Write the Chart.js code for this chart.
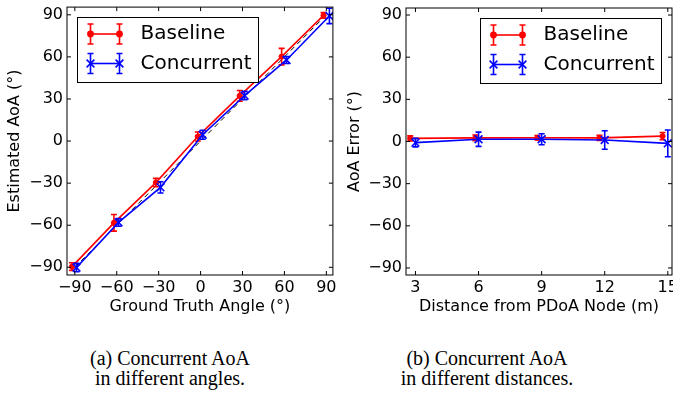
<!DOCTYPE html>
<html>
<head>
<meta charset="utf-8">
<script src="https://cdn.jsdelivr.net/npm/chart.js@4"></script>
<style>
  html, body { margin: 0; padding: 0; background: #fff; overflow: hidden; width: 673px; height: 400px; }
  .box { position: absolute; top: 0; height: 320px; }
  #wrapA { left: 0; width: 340px; }
  #wrapB { left: 340px; width: 360px; }
  .cap { position: absolute; top: 348px; width: 220px; font-family: 'Liberation Serif', serif; font-size: 20px; line-height: 20px; text-align: center; color: #000; white-space: nowrap; }
</style>
</head>
<body>
<div class="box" id="wrapA"><canvas id="angle" width="340" height="320"></canvas></div>
<div class="box" id="wrapB"><canvas id="dist" width="360" height="320"></canvas></div>
<div class="cap" style="left:60px">(a) Concurrent AoA<br>in different angles.</div>
<div class="cap" style="left:377px">(b) Concurrent AoA<br>in different distances.</div>
<script>
// (a) estimated AoA vs ground truth angle
const angleTicks = [-90, -60, -30, 0, 30, 60, 90];
const baseAngleX = [-92, -62, -32, -2, 28, 58, 88];
const baseAngleY = [-89.5, -58.3, -29.6, 3.2, 32.2, 60.2, 89.6];
const baseAngleErr = [2.7, 5.9, 3, 3.2, 3.8, 5.9, 2];
const concAngleX = [-88.8, -58.7, -28.7, 1.5, 31.5, 61.5, 92.2];
const concAngleY = [-90.2, -58, -33, 4.5, 32.4, 57.8, 89.2];
const concAngleErr = [3, 2.7, 4, 3.2, 3, 2.5, 5.5];
const diagX = [-90, 90];

// (b) AoA error vs distance
const errTicks = [-90, -60, -30, 0, 30, 60, 90];
const distTicks = [3, 6, 9, 12, 15];
const baseDistX = [2.75, 5.85, 8.8, 11.75, 14.75];
const baseDistY = [2.2, 2.6, 2.7, 2.6, 3.8];
const baseDistErr = [1.8, 2, 1.6, 1.8, 2.6];
const concDistX = [3, 6, 9, 12, 15];
const concDistY = [-0.8, 1.6, 1.6, 1.1, -1.3];
const concDistErr = [3, 5.1, 3.9, 6.6, 9.5];

Chart.defaults.font.family = 'DejaVu Sans';
Chart.defaults.color = '#000';

const RED = '#ff0000';
const BLUE = '#0000ff';

function pts(xs, ys) {
    return xs.map((x, i) => ({x: x, y: ys[i]}));
}

function fmt(v) {
    return v < 0 ? '\u2212' + Math.abs(v) : String(v);
}

// vertical error bars with caps, drawn right after their own line
const errorBars = {
    id: 'errorBars',
    afterDatasetDraw(chart, args) {
        const ds = chart.data.datasets[args.index];
        if (!ds.errors) return;
        const {ctx, chartArea: a} = chart;
        const xs = chart.scales.x, ys = chart.scales.y;
        ctx.save();
        ctx.beginPath();
        ctx.rect(a.left, a.top, a.right - a.left, a.bottom - a.top);
        ctx.clip();
        ctx.strokeStyle = ds.borderColor;
        ctx.lineWidth = 1.6;
        ds.data.forEach((p, i) => {
            const px = xs.getPixelForValue(p.x);
            const hi = ys.getPixelForValue(p.y + ds.errors[i]);
            const lo = ys.getPixelForValue(p.y - ds.errors[i]);
            ctx.beginPath();
            ctx.moveTo(px, hi); ctx.lineTo(px, lo);
            ctx.moveTo(px - 3, hi); ctx.lineTo(px + 3, hi);
            ctx.moveTo(px - 3, lo); ctx.lineTo(px + 3, lo);
            ctx.stroke();
        });
        ctx.restore();
    }
};

// box around the plot and inward ticks on all four sides, then the legend
const frameAndLegend = {
    id: 'errLegend',
    afterDraw(chart, args, opts) {
        const {ctx, chartArea: a} = chart;
        const xs = chart.scales.x, ys = chart.scales.y;
        ctx.save();
        ctx.strokeStyle = '#000';
        ctx.lineWidth = 1;
        ctx.strokeRect(a.left, a.top, a.right - a.left, a.bottom - a.top);
        ctx.beginPath();
        xs.ticks.forEach(t => {
            const p = xs.getPixelForValue(t.value);
            ctx.moveTo(p, a.bottom); ctx.lineTo(p, a.bottom - 4);
            ctx.moveTo(p, a.top); ctx.lineTo(p, a.top + 4);
        });
        ys.ticks.forEach(t => {
            const p = ys.getPixelForValue(t.value);
            ctx.moveTo(a.left, p); ctx.lineTo(a.left + 4, p);
            ctx.moveTo(a.right, p); ctx.lineTo(a.right - 4, p);
        });
        ctx.stroke();

        // legend
        const bx = Math.round(a.left + opts.x) + 0.5;
        const by = Math.round(a.top + opts.y) + 0.5;
        ctx.fillStyle = '#fff';
        ctx.fillRect(bx, by, 181, 65);
        ctx.strokeRect(bx, by, 181, 65);
        const items = chart.data.datasets.filter(d => d.errors);
        items.forEach((d, i) => {
            const cy = by + 16.5 + i * 29.5;
            const x0 = bx + 13, x1 = bx + 42;
            ctx.strokeStyle = d.borderColor;
            ctx.fillStyle = d.borderColor;
            ctx.lineWidth = d.borderWidth;
            ctx.beginPath();
            ctx.moveTo(x0, cy); ctx.lineTo(x1, cy);
            ctx.stroke();
            ctx.lineWidth = 1.6;
            [x0, x1].forEach(px => {
                ctx.beginPath();
                ctx.moveTo(px, cy - 10); ctx.lineTo(px, cy + 10);
                ctx.moveTo(px - 3, cy - 10); ctx.lineTo(px + 3, cy - 10);
                ctx.moveTo(px - 3, cy + 10); ctx.lineTo(px + 3, cy + 10);
                ctx.stroke();
                Chart.helpers.drawPoint(ctx, {
                    pointStyle: d.pointStyle, radius: d.pointRadius,
                    rotation: 0, borderWidth: d.pointBorderWidth
                }, px, cy);
            });
            ctx.fillStyle = '#000';
            ctx.font = '20px "DejaVu Sans"';
            ctx.textBaseline = 'middle';
            ctx.textAlign = 'left';
            ctx.fillText(d.label, bx + 63, cy);
        });
        ctx.restore();
    }
};

function series(label, xs, ys, errs, color, style) {
    const isCross = style === 'crossRot';
    return {
        label: label,
        data: pts(xs, ys),
        errors: errs,
        borderColor: color,
        backgroundColor: color,
        borderWidth: 1.6,
        pointStyle: style,
        pointRadius: isCross ? 5.5 : 2.6,
        pointBorderWidth: isCross ? 1.6 : 1,
        pointBackgroundColor: color,
        pointBorderColor: color,
        order: isCross ? 0 : 1,
        clip: 0
    };
}

function axis(min, max, tickVals, size, title, titlePad) {
    const horiz = size.h !== undefined;
    return {
        type: 'linear',
        min: min,
        max: max,
        afterBuildTicks: s => { s.ticks = tickVals.map(v => ({value: v})); },
        afterFit: s => {
            if (horiz) {
                s.height = size.h;
                s.paddingLeft = 0; s.paddingRight = 0;
            } else {
                s.width = size.w;
                s.paddingTop = 0; s.paddingBottom = 0;
            }
        },
        grid: {display: false, drawTicks: false},
        border: {display: false},
        ticks: {
            padding: horiz ? 3 : 4,
            font: {size: 16},
            color: '#000',
            maxRotation: 0,
            autoSkip: false,
            callback: v => fmt(v)
        },
        title: {
            display: true,
            text: title,
            font: {size: 16},
            color: '#000',
            padding: titlePad
        }
    };
}

const angleChart = new Chart(document.getElementById('angle'), {
    type: 'line',
    data: {
        datasets: [
            series('Baseline', baseAngleX, baseAngleY, baseAngleErr, RED, 'circle'),
            series('Concurrent', concAngleX, concAngleY, concAngleErr, BLUE, 'crossRot'),
            {
                label: 'ideal',
                data: pts(diagX, diagX),
                borderColor: '#000',
                borderWidth: 1,
                borderDash: [5, 4],
                pointRadius: 0,
                order: 2
            }
        ]
    },
    options: {
        responsive: false,
        animation: false,
        layout: {padding: {left: 0, right: 4, top: 5, bottom: 0}},
        scales: {
            x: axis(-95.6, 94.7, angleTicks, {h: 45}, 'Ground Truth Angle (°)', {top: 0, bottom: 4}),
            y: axis(-95.5, 95.5, angleTicks, {w: 67}, 'Estimated AoA (°)', {top: 5, bottom: 0})
        },
        plugins: {
            legend: {display: false},
            tooltip: {enabled: false},
            errLegend: {x: 10, y: 10}
        }
    },
    plugins: [errorBars, frameAndLegend]
});

const distChart = new Chart(document.getElementById('dist'), {
    type: 'line',
    data: {
        datasets: [
            series('Baseline', baseDistX, baseDistY, baseDistErr, RED, 'circle'),
            series('Concurrent', concDistX, concDistY, concDistErr, BLUE, 'crossRot')
        ]
    },
    options: {
        responsive: false,
        animation: false,
        layout: {padding: {left: 0, right: 28, top: 8, bottom: 0}},
        scales: {
            x: axis(2.55, 15.2, distTicks, {h: 45}, 'Distance from PDoA Node (m)', {top: 0, bottom: 4}),
            y: axis(-95, 95, errTicks, {w: 66}, 'AoA Error (°)', {top: 5, bottom: 0})
        },
        plugins: {
            legend: {display: false},
            tooltip: {enabled: false},
            errLegend: {x: 74, y: 10}
        }
    },
    plugins: [errorBars, frameAndLegend]
});
</script>
</body>
</html>
